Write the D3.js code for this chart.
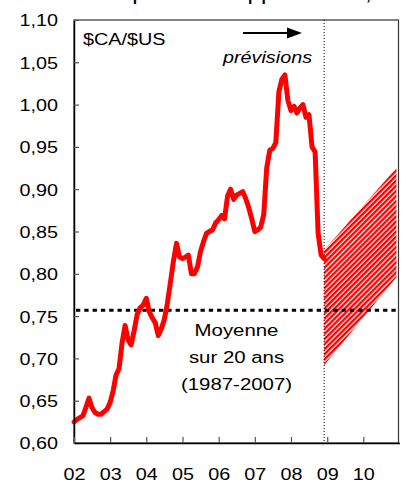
<!DOCTYPE html>
<html>
<head>
<meta charset="utf-8">
<script src="https://cdn.jsdelivr.net/npm/d3@7"></script>
<style>
  body { margin: 0; background: #fff; }
  svg { display: block; }
  text { font-family: "Liberation Sans", Arial, sans-serif; fill: #000; }
</style>
</head>
<body>
<div id="chart"></div>
<script>
// monthly $CA/$US, Jan 2002 -> Dec 2008
var startMonth = "2002-01";
var rateValues = [
  0.625, 0.628, 0.630, 0.632, 0.642, 0.653, 0.642, 0.636, 0.634, 0.634, 0.637, 0.640,
  0.648, 0.662, 0.680, 0.688, 0.718, 0.739, 0.722, 0.716, 0.733, 0.752, 0.760, 0.763,
  0.771, 0.755, 0.748, 0.742, 0.727, 0.735, 0.746, 0.765, 0.790, 0.815, 0.836, 0.820,
  0.818, 0.820, 0.822, 0.800, 0.800, 0.808, 0.826, 0.838, 0.848, 0.850, 0.852, 0.860,
  0.864, 0.869, 0.865, 0.892, 0.900, 0.888, 0.893, 0.895, 0.897, 0.889, 0.878, 0.865,
  0.850, 0.852, 0.855, 0.870, 0.925, 0.946, 0.948, 0.955, 1.015, 1.030, 1.035, 1.005,
  0.993, 0.998, 0.990, 0.996, 1.000, 0.985, 0.988, 0.950, 0.944, 0.848, 0.822, 0.818
];

// forecast band (hatched)
var forecastMonths = ["2008-12", "2010-12"];
var forecastLow = [0.692, 0.796];
var forecastHigh = [0.828, 0.925];

// 20-year average (1987-2007)
var averageValue = 0.757;
var forecastStart = "2008-12";

var yTicks = [0.60, 0.65, 0.70, 0.75, 0.80, 0.85, 0.90, 0.95, 1.00, 1.05, 1.10];
var xTickYears = [2002, 2003, 2004, 2005, 2006, 2007, 2008, 2009, 2010];
var xTickLabels = ["02", "03", "04", "05", "06", "07", "08", "09", "10"];

var W = 401, H = 482;
var plotLeft = 74, plotRight = 399.5, plotTop = 20, plotBottom = 443;
var stretch = 1.2;   // glyphs in the picture are drawn a bit wide

var parseMonth = d3.timeParse("%Y-%m");
var start = parseMonth(startMonth);

var x = d3.scaleTime()
  .domain([new Date(2002, 0, 1), new Date(2011, 0, 1)])
  .range([plotLeft, plotRight]);
var y = d3.scaleLinear()
  .domain([0.60, 1.10])
  .range([plotBottom, plotTop]);

var svg = d3.select("#chart")
  .append("svg")
    .attr("width", W)
    .attr("height", H);

var defs = svg.append("defs");
defs.append("clipPath").attr("id", "plotClip")
  .append("rect")
    .attr("x", plotLeft).attr("y", plotTop)
    .attr("width", plotRight - plotLeft).attr("height", plotBottom - plotTop);
var pat = defs.append("pattern")
    .attr("id", "hatch")
    .attr("width", 3.6).attr("height", 3.6)
    .attr("patternUnits", "userSpaceOnUse")
    .attr("patternTransform", "rotate(45)");
pat.append("rect").attr("width", 3.6).attr("height", 3.6).attr("fill", "#fff");
pat.append("rect").attr("width", 2.4).attr("height", 3.6).attr("fill", "#ff0000");

// title, cut off by the top of the window
svg.append("text")
  .attr("transform", "translate(111,0) scale(" + stretch + ",1)")
  .style("font-size", "20px")
  .text("reprise de l'appréciation,");

// frame
svg.append("rect")
  .attr("x", plotLeft).attr("y", plotTop)
  .attr("width", plotRight - plotLeft - 1).attr("height", plotBottom - plotTop)
  .attr("fill", "none")
  .attr("stroke", "#333")
  .attr("stroke-width", 1.2);

// forecast band
var band = d3.area()
  .x(function(d) { return x(parseMonth(d.m)); })
  .y0(function(d) { return y(d.lo); })
  .y1(function(d) { return y(d.hi); });
svg.append("path")
  .datum(forecastMonths.map(function(m, i) { return {m: m, lo: forecastLow[i], hi: forecastHigh[i]}; }))
  .attr("clip-path", "url(#plotClip)")
  .attr("d", band)
  .attr("fill", "url(#hatch)");

// average line
svg.append("line")
  .attr("x1", plotLeft + 2).attr("x2", plotRight - 1)
  .attr("y1", y(averageValue)).attr("y2", y(averageValue))
  .attr("stroke", "#000")
  .attr("stroke-width", 3)
  .attr("stroke-dasharray", "4.3,4");

// forecast start (dotted)
svg.append("line")
  .attr("x1", x(parseMonth(forecastStart))).attr("x2", x(parseMonth(forecastStart)))
  .attr("y1", plotTop).attr("y2", plotBottom)
  .attr("stroke", "#000")
  .attr("stroke-width", 1)
  .attr("stroke-dasharray", "1,2");

// red line
var line = d3.line()
  .x(function(d, i) { return x(d3.timeMonth.offset(start, i)); })
  .y(function(d) { return y(d); });
svg.append("path")
  .datum(rateValues)
  .attr("d", line)
  .attr("fill", "none")
  .attr("stroke", "#ff0000")
  .attr("stroke-width", 5)
  .attr("stroke-linejoin", "round")
  .attr("stroke-linecap", "round");

// Y axis
var yAxis = svg.append("g")
  .attr("transform", "translate(" + plotLeft + ",0)")
  .call(d3.axisLeft(y)
    .tickValues(yTicks)
    .tickSizeInner(-5)
    .tickSizeOuter(0)
    .tickFormat(function(d) { return d3.format(".2f")(d).replace(".", ","); }));
yAxis.attr("font-family", null).attr("font-size", null);
yAxis.select(".domain").attr("stroke", "#000").attr("stroke-width", 1.5);
yAxis.selectAll(".tick line").attr("stroke", "#555").attr("stroke-width", 1.2);
yAxis.selectAll(".tick text")
  .attr("x", 0).attr("dy", "0.36em")
  .attr("transform", "translate(-16,0) scale(" + stretch + ",1)")
  .style("font-size", "16.5px")
  .attr("fill", "#000");

// X axis
var xAxis = svg.append("g")
  .attr("transform", "translate(0," + plotBottom + ")")
  .call(d3.axisBottom(x)
    .tickValues(xTickYears.map(function(yr) { return new Date(yr, 0, 1); }))
    .tickSizeInner(-6)
    .tickSizeOuter(0)
    .tickFormat(function(d, i) { return xTickLabels[i]; }));
xAxis.attr("font-family", null).attr("font-size", null);
xAxis.select(".domain").attr("stroke", "#000").attr("stroke-width", 1.5);
xAxis.selectAll(".tick line").attr("stroke", "#555").attr("stroke-width", 1.2);
xAxis.selectAll(".tick text")
  .attr("y", 0).attr("dy", 0)
  .attr("transform", "translate(0,37) scale(" + stretch + ",1)")
  .style("font-size", "16.5px")
  .attr("fill", "#000");

// labels
svg.append("text")
  .attr("transform", "translate(83,45) scale(" + stretch + ",1)")
  .style("font-size", "16.5px")
  .text("$CA/$US");

svg.append("line")
  .attr("x1", 243).attr("x2", 290)
  .attr("y1", 33).attr("y2", 33)
  .attr("stroke", "#000").attr("stroke-width", 2);
svg.append("path")
  .attr("d", "M287,27.5 L302,33 L287,38.5 Z")
  .attr("fill", "#000");

svg.append("text")
  .attr("transform", "translate(267.5,63) scale(" + stretch + ",1)")
  .attr("text-anchor", "middle")
  .style("font-size", "16.5px")
  .style("font-style", "italic")
  .text("prévisions");

var noteLines = ["Moyenne", "sur 20 ans", "(1987-2007)"];
svg.selectAll(".note")
  .data(noteLines)
  .enter().append("text")
    .attr("class", "note")
    .attr("transform", function(d, i) { return "translate(236.5," + (336 + i * 27) + ") scale(" + stretch + ",1)"; })
    .attr("text-anchor", "middle")
    .style("font-size", "17px")
    .text(function(d) { return d; });
</script>
</body>
</html>
